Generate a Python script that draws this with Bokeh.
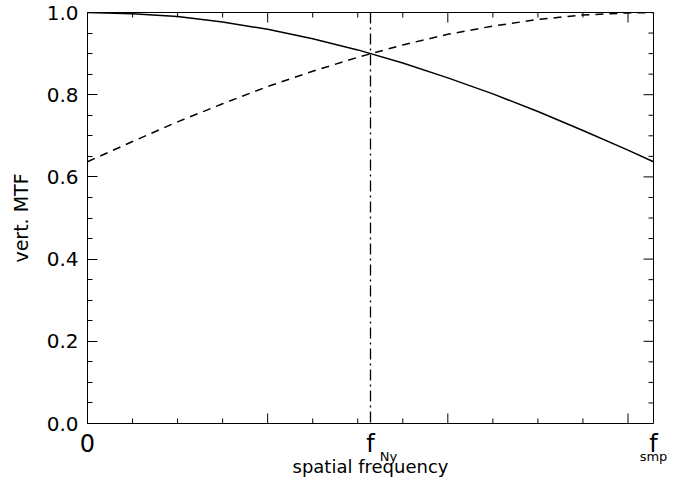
import math
from bokeh.plotting import figure
from bokeh.models import (FixedTicker, LinearAxis, PrintfTickFormatter,
                          CustomJSTickFormatter, Span, Range1d)
from bokeh.embed import file_html
from bokeh.resources import INLINE

# ---- data ----
freq = [0.0, 0.25, 0.5, 0.75, 1.0, 1.25, 1.5, 1.75, 2.0, 2.25, 2.5, 2.75, 3.0, 3.1416]
mtf_solid = [1.000, 0.997, 0.990, 0.977, 0.959, 0.936, 0.909, 0.877, 0.841, 0.802,
             0.759, 0.713, 0.665, 0.637]
mtf_dashed = [0.637, 0.686, 0.734, 0.778, 0.820, 0.857, 0.891, 0.921, 0.947, 0.967,
              0.983, 0.994, 0.999, 1.000]
f_nyquist = 1.5708
f_sampling = 3.1416

x_major = [0, 1, 2, 3]
x_minor = [0.25, 0.5, 0.75, 1.25, 1.5, 1.75, 2.25, 2.5, 2.75]
x_label_pos = [0.0, f_nyquist, f_sampling]
x_label_text = ["0", "f", "f"]
x_sub_text = ["Ny", "smp"]
y_major = [0.0, 0.2, 0.4, 0.6, 0.8, 1.0]
y_minor = [0.05, 0.1, 0.15, 0.25, 0.3, 0.35, 0.45, 0.5, 0.55, 0.65, 0.7, 0.75,
           0.85, 0.9, 0.95]

FONT = "DejaVu Sans"
SUB_SHIFT = 0.1             # subscript placed just right of its "f" (x units)
x_sub_pos = [f_nyquist + SUB_SHIFT, f_sampling]   # cannot go past the range end

p = figure(width=679, height=479, output_backend="svg", toolbar_location=None,
           x_range=Range1d(0, f_sampling), y_range=Range1d(0, 1.0),
           min_border_left=87, min_border_right=26, min_border_top=12,
           min_border_bottom=56, x_axis_type=None, y_axis_type=None)
p.grid.visible = False
p.outline_line_color = "black"
p.outline_line_width = 1
p.background_fill_color = "white"
p.border_fill_color = "white"

LABEL_JS = ("for (let i=0;i<pos.length;i++){ if (Math.abs(tick-pos[i])<1e-6) "
            "return txt[i]; } return '';")

def bare(ax):
    ax.axis_line_color = None
    ax.major_tick_line_color = None
    ax.minor_tick_line_color = None
    ax.major_tick_in = 0
    ax.major_tick_out = 0
    ax.minor_tick_in = 0
    ax.minor_tick_out = 0

# bottom axis 1: "0", "f", "f"
xb = LinearAxis(ticker=FixedTicker(ticks=x_label_pos, minor_ticks=[]),
                formatter=CustomJSTickFormatter(args=dict(pos=x_label_pos, txt=x_label_text),
                                                code=LABEL_JS))
bare(xb)
xb.major_label_text_font = FONT
xb.major_label_text_font_size = "24px"
xb.major_label_text_color = "black"
xb.major_label_standoff = 6
p.add_layout(xb, "below")

# bottom axis 2: subscripts
xs = LinearAxis(ticker=FixedTicker(ticks=x_sub_pos, minor_ticks=[]),
                formatter=CustomJSTickFormatter(args=dict(pos=x_sub_pos, txt=x_sub_text),
                                                code=LABEL_JS))
bare(xs)
xs.major_label_text_font = FONT
xs.major_label_text_font_size = "13px"
xs.major_label_text_color = "black"
xs.major_label_standoff = -12
p.add_layout(xs, "below")

# bottom axis 3: title only
xl = LinearAxis(ticker=FixedTicker(ticks=[], minor_ticks=[]),
                axis_label="spatial frequency", bounds=(-0.05, 3.058))
bare(xl)
xl.major_label_standoff = 0
xl.axis_label_text_font = FONT
xl.axis_label_text_font_size = "18px"
xl.axis_label_text_font_style = "normal"
xl.axis_label_text_color = "black"
xl.axis_label_standoff = -11
p.add_layout(xl, "below")

# left axis
yl = LinearAxis(ticker=FixedTicker(ticks=y_major, minor_ticks=y_minor),
                formatter=PrintfTickFormatter(format="%.1f"), axis_label="vert. MTF")
yl.axis_line_color = "black"
yl.major_tick_line_color = "black"
yl.minor_tick_line_color = "black"
yl.major_tick_in = 10
yl.major_tick_out = 0
yl.minor_tick_in = 5
yl.minor_tick_out = 0
yl.major_label_text_font = FONT
yl.major_label_text_font_size = "20px"
yl.major_label_text_color = "black"
yl.major_label_standoff = 9
yl.axis_label_text_font = FONT
yl.axis_label_text_font_size = "19px"
yl.axis_label_text_font_style = "normal"
yl.axis_label_text_color = "black"
yl.axis_label_standoff = 12
p.add_layout(yl, "left")

# inward tick marks on bottom, top and right edges (clipped half-dashes)
x_ticks_all = x_major + x_minor
x_tick_size = [20] * len(x_major) + [10] * len(x_minor)
for edge in (0.0, 1.0):
    p.scatter(x_ticks_all, [edge] * len(x_ticks_all), marker="dash",
              size=x_tick_size, angle=math.pi / 2, line_color="black", line_width=1)
y_ticks_all = y_major + y_minor
y_tick_size = [20] * len(y_major) + [10] * len(y_minor)
p.scatter([f_sampling] * len(y_ticks_all), y_ticks_all, marker="dash",
          size=y_tick_size, line_color="black", line_width=1)

# curves
p.line(freq, mtf_solid, line_color="black", line_width=1.5)
p.line(freq, mtf_dashed, line_color="black", line_width=1.5, line_dash="8 6")
p.add_layout(Span(location=f_nyquist, dimension="height", line_color="black",
                  line_width=1.3, line_dash="11 4 2 4"))

open("out.html", "w").write(file_html(p, INLINE))
